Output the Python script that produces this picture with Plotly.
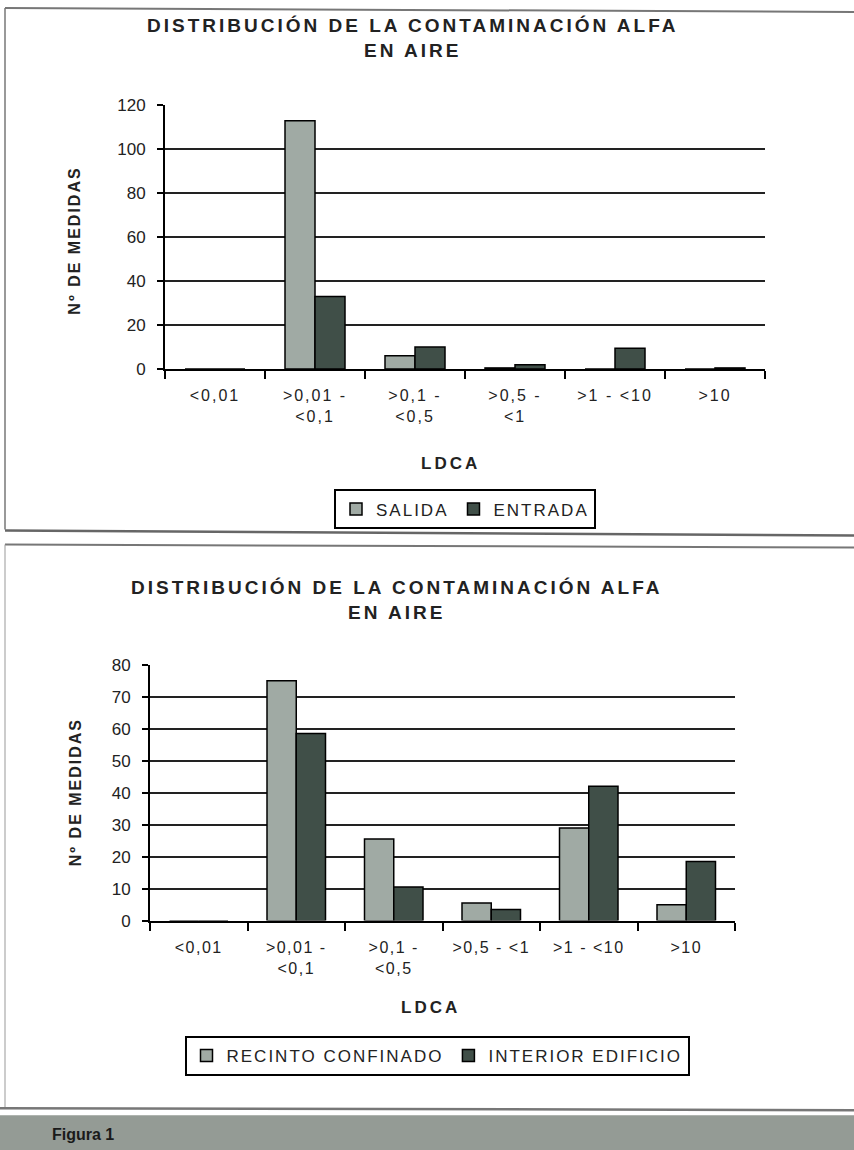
import plotly.graph_objects as go

# ---- data ----
cats_top = ["<0,01", ">0,01 - <0,1", ">0,1 - <0,5", ">0,5 - <1", ">1 - <10", ">10"]
ticks_top = ["&lt;0,01", "&gt;0,01 -<br>&lt;0,1", "&gt;0,1 -<br>&lt;0,5", "&gt;0,5 -<br>&lt;1", "&gt;1 - &lt;10", "&gt;10"]
salida = [0, 113, 6, 0.5, 0, 0]
entrada = [0, 33, 10, 2, 9.5, 0.5]

cats_bot = ["<0,01", ">0,01 - <0,1", ">0,1 - <0,5", ">0,5 - <1", ">1 - <10", ">10"]
ticks_bot = ["&lt;0,01", "&gt;0,01 -<br>&lt;0,1", "&gt;0,1 -<br>&lt;0,5", "&gt;0,5 - &lt;1", "&gt;1 - &lt;10", "&gt;10"]
recinto = [0, 75, 25.5, 5.5, 29, 5]
interior = [0, 58.5, 10.5, 3.5, 42, 18.5]

title_text = "DISTRIBUCIÓN DE LA CONTAMINACIÓN ALFA<br>EN AIRE"
ytitle = "Nº DE MEDIDAS"
xtitle = "LDCA"
names_top = ["SALIDA", "ENTRADA"]
names_bot = ["RECINTO CONFINADO", "INTERIOR EDIFICIO"]

LIGHT = "#a0aaa4"
DARK = "#404f48"
FONT = "Liberation Sans, Arial, sans-serif"
NARROW = "Liberation Sans Narrow, Liberation Sans, Arial, sans-serif"

W, H = 854, 1175
VS, VOFF = 0.981, 9.0   # observed vertical mapping of the page in the snapshot


def px(x):
    return x / W


def py(t):
    return 1 - ((t - VOFF) / VS) / H


def spaced(t, s):
    return '<span style="letter-spacing:%spx">%s</span>' % (s, t)


fig = go.Figure()
fig.add_trace(go.Bar(x=cats_top, y=salida, name=spaced(names_top[0], 2),
                     marker=dict(color=LIGHT, line=dict(color="black", width=1.5)),
                     xaxis="x", yaxis="y", legend="legend"))
fig.add_trace(go.Bar(x=cats_top, y=entrada, name=spaced(names_top[1], 2),
                     marker=dict(color=DARK, line=dict(color="black", width=1.5)),
                     xaxis="x", yaxis="y", legend="legend"))
fig.add_trace(go.Bar(x=cats_bot, y=recinto, name=spaced(names_bot[0], 2),
                     marker=dict(color=LIGHT, line=dict(color="black", width=1.5)),
                     xaxis="x2", yaxis="y2", legend="legend2"))
fig.add_trace(go.Bar(x=cats_bot, y=interior, name=spaced(names_bot[1], 2),
                     marker=dict(color=DARK, line=dict(color="black", width=1.5)),
                     xaxis="x2", yaxis="y2", legend="legend2"))

xcommon = dict(showline=True, linecolor="black", linewidth=2, ticks="outside", tickson="boundaries",
               ticklen=8, tickwidth=1.5, tickcolor="black", showgrid=False, tickmode="array",
               ticklabelstandoff=11,
               tickfont=dict(family=FONT, size=16, color="#222"), fixedrange=True)
ycommon = dict(showline=True, linecolor="black", linewidth=2, ticks="outside", ticklen=6, tickwidth=1.5,
               tickcolor="black", showgrid=True, gridcolor="#222", gridwidth=2, zeroline=False,
               ticklabelstandoff=8,
               tickfont=dict(family=FONT, size=17, color="#222"), fixedrange=True)

fig.update_layout(
    width=W, height=H,
    margin=dict(l=0, r=0, t=0, b=0),
    paper_bgcolor="white", plot_bgcolor="white",
    barmode="group", bargap=0.4, bargroupgap=0,
    xaxis=dict(domain=[px(165), px(765)], anchor="y", tickvals=cats_top,
               ticktext=[spaced(t, 2) for t in ticks_top], **xcommon),
    yaxis=dict(domain=[py(368), py(105)], anchor="x", range=[0, 120], dtick=20, **ycommon),
    xaxis2=dict(domain=[px(150), px(735)], anchor="y2", tickvals=cats_bot,
                ticktext=[spaced(t, 1.5) for t in ticks_bot], **xcommon),
    yaxis2=dict(domain=[py(918), py(663)], anchor="x2", range=[0, 80], dtick=10, **ycommon),
    legend=dict(orientation="h", x=px(465), y=py(508), xanchor="center", yanchor="middle",
                bordercolor="black", borderwidth=2, bgcolor="white",
                font=dict(family=FONT, size=17, color="#222"), itemwidth=30),
    legend2=dict(orientation="h", x=px(437), y=py(1053), xanchor="center", yanchor="middle",
                 bordercolor="black", borderwidth=2, bgcolor="white",
                 font=dict(family=FONT, size=17, color="#222"), itemwidth=30),
    showlegend=True,
)

ann = []
for (tx, ty, yx, yy, lx, ly) in [(412, 38, 75, 240, 450, 462), (396, 598, 75, 790, 430, 1005)]:
    ann.append(dict(text="<b>" + spaced(title_text, 3) + "</b>", x=px(tx), y=py(ty), xref="paper", yref="paper",
                    xanchor="center", yanchor="middle",
                    showarrow=False, font=dict(family=NARROW, size=19, color="#222"), align="center"))
    ann.append(dict(text="<b>" + spaced(ytitle, 2) + "</b>", x=px(yx), y=py(yy), xref="paper", yref="paper",
                    xanchor="center", yanchor="middle",
                    showarrow=False, textangle=-90, font=dict(family=FONT, size=16, color="#222")))
    ann.append(dict(text="<b>" + spaced(xtitle, 3) + "</b>", x=px(lx), y=py(ly), xref="paper", yref="paper",
                    xanchor="center", yanchor="middle",
                    showarrow=False, font=dict(family=FONT, size=17, color="#222")))
ann.append(dict(text="<b>Figura 1</b>", x=px(50), y=py(1131), xref="paper", yref="paper", xanchor="left",
                yanchor="middle", showarrow=False, font=dict(family=NARROW, size=16, color="#1a1a1a")))
fig.update_layout(annotations=ann)

shapes = [
    # top frame
    dict(type="line", xref="paper", yref="paper", x0=px(5), x1=1, y0=py(8), y1=py(12), line=dict(color="#777", width=2)),
    dict(type="line", xref="paper", yref="paper", x0=px(5), x1=px(5), y0=py(8), y1=py(528), line=dict(color="#777", width=1.5)),
    dict(type="line", xref="paper", yref="paper", x0=px(5), x1=1, y0=py(529), y1=py(534), line=dict(color="#666", width=2.5)),
    # bottom frame
    dict(type="line", xref="paper", yref="paper", x0=px(5), x1=1, y0=py(543), y1=py(546), line=dict(color="#777", width=2)),
    dict(type="line", xref="paper", yref="paper", x0=px(5), x1=px(5), y0=py(543), y1=py(1105), line=dict(color="#999", width=1)),
    dict(type="line", xref="paper", yref="paper", x0=0, x1=1, y0=py(1105), y1=py(1107), line=dict(color="#777", width=2.5)),
    # grey band (runs to the bottom of the page)
    dict(type="rect", xref="paper", yref="paper", x0=0, x1=1, y0=0, y1=py(1112), fillcolor="#949b95",
         line=dict(width=0), layer="below"),
]
fig.update_layout(shapes=shapes)

fig.write_html(
    "out.html",
    config={"displayModeBar": False},
    post_script=(
        "document.body.style.margin='0';"
        "var d=document.getElementById('{plot_id}');"
        "d.style.position='fixed';d.style.top='0';d.style.left='0';"
    ),
)
